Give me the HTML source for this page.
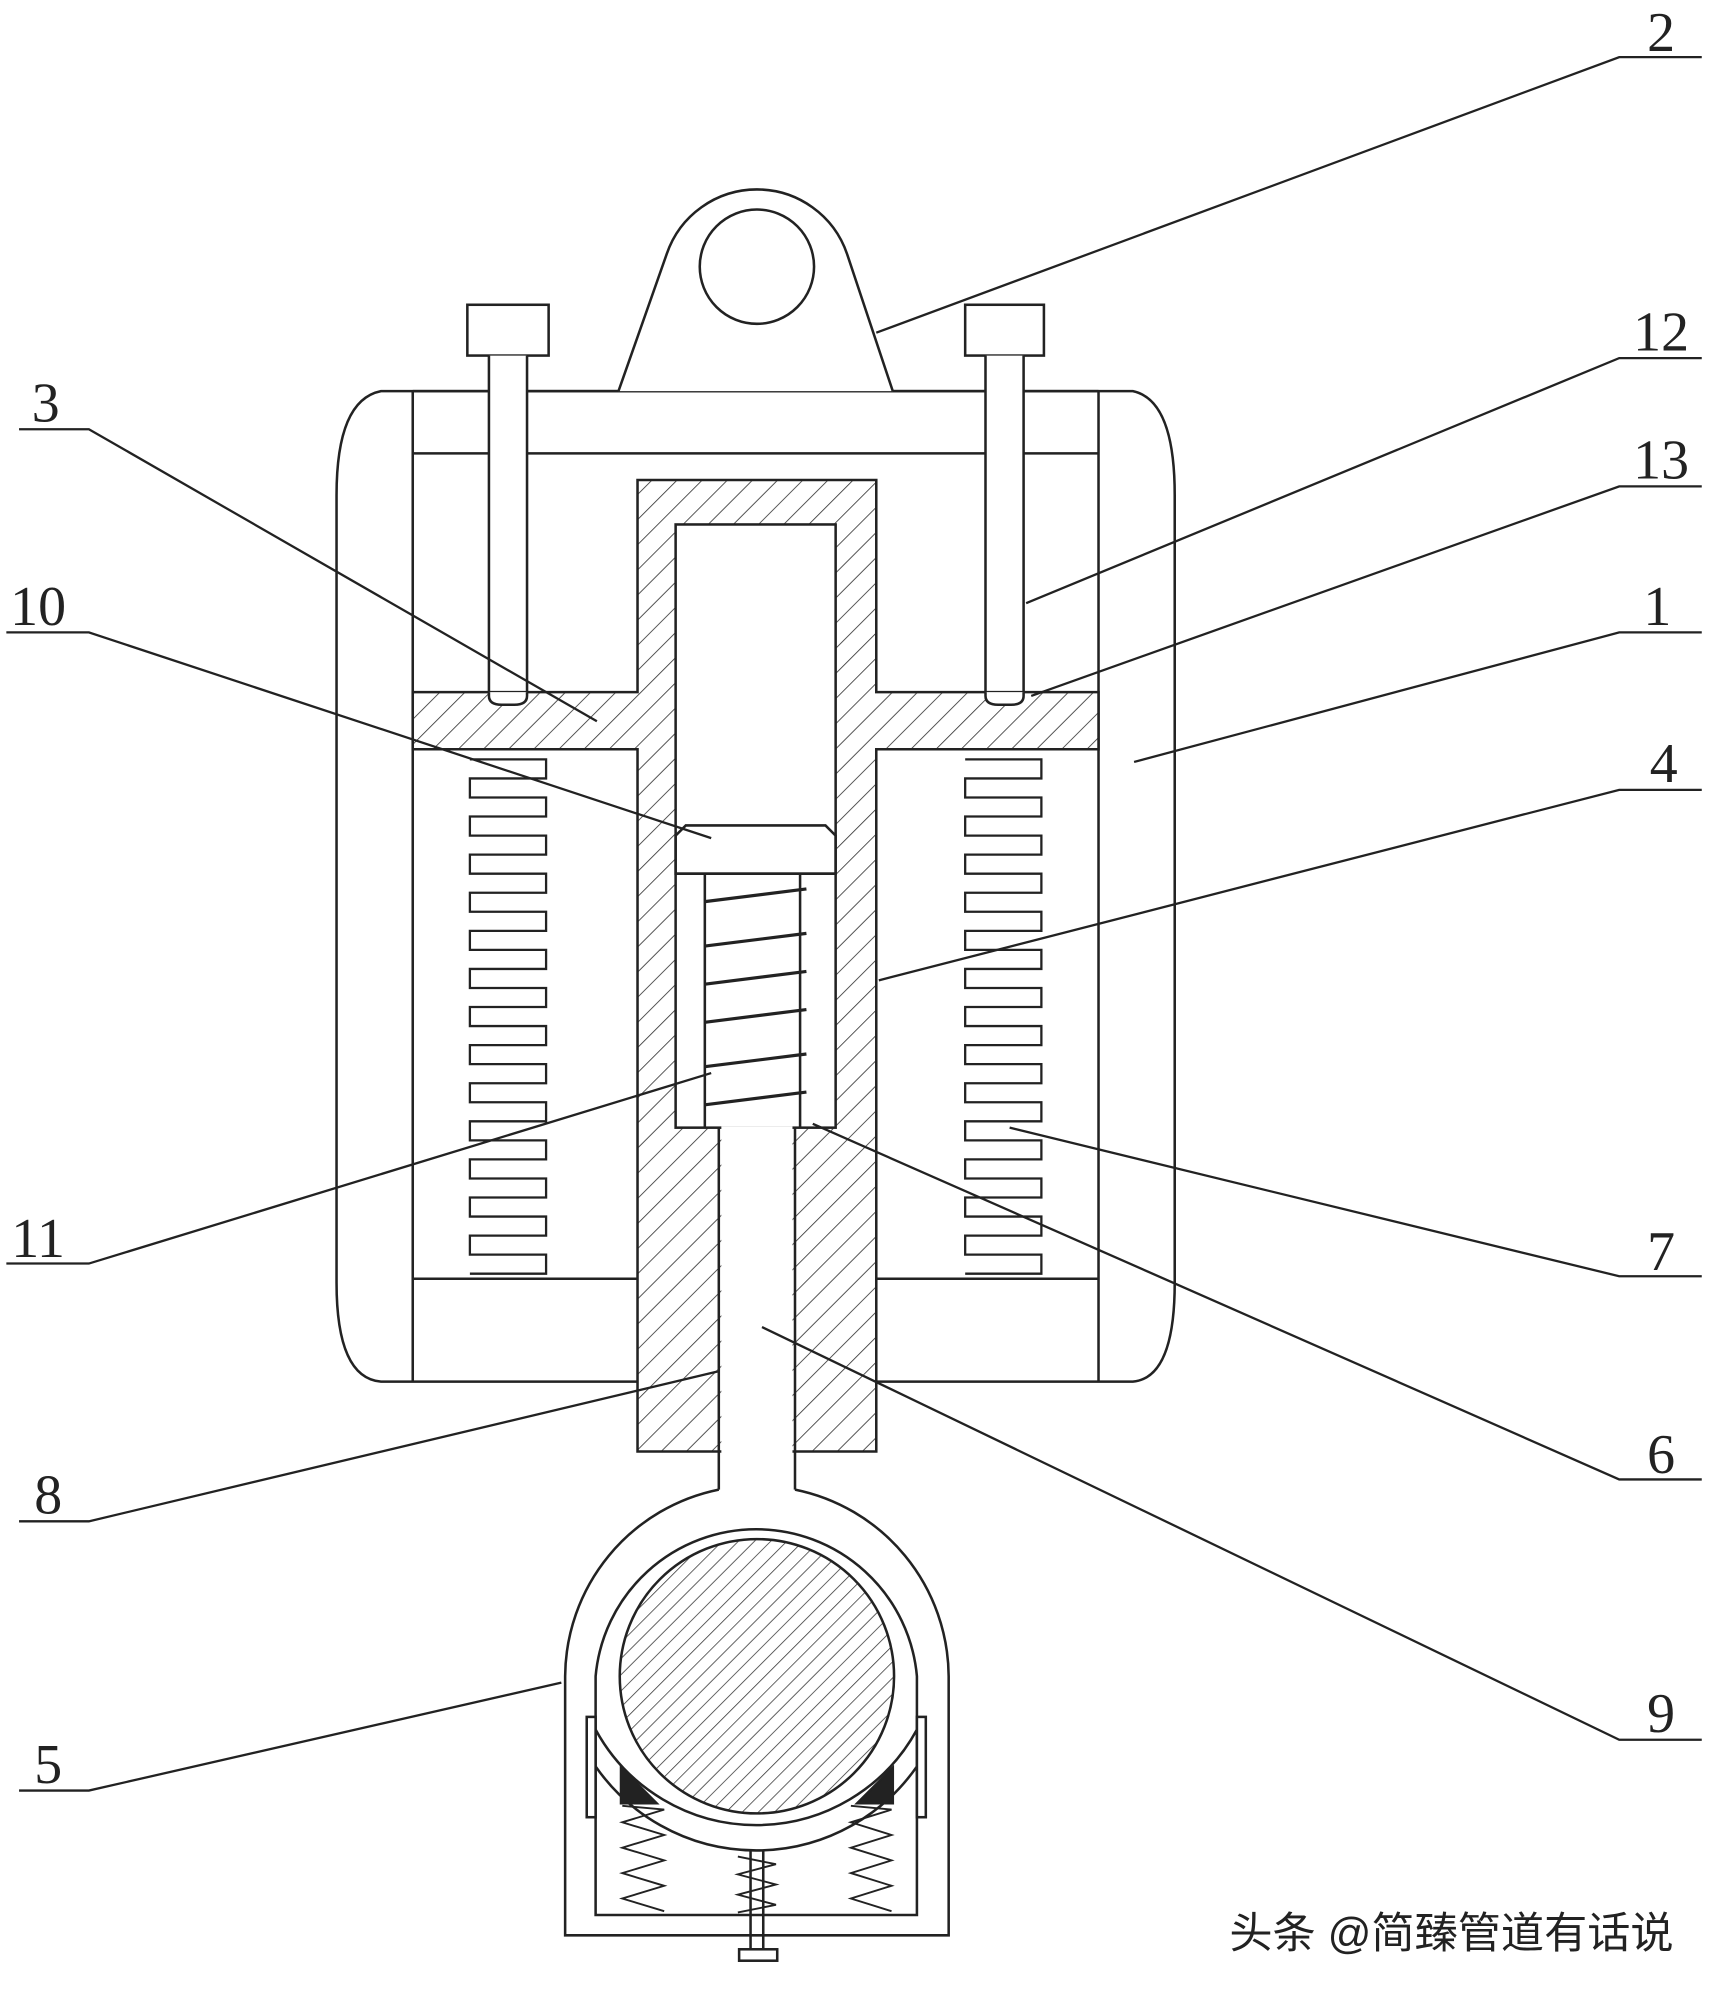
<!DOCTYPE html>
<html><head><meta charset="utf-8"><style>html,body{margin:0;padding:0;background:#fff}svg{display:block}</style></head>
<body>
<svg width="1717" height="1995" viewBox="0 0 1352 1571" preserveAspectRatio="none" xmlns="http://www.w3.org/2000/svg">
<defs>
<pattern id="h" width="14" height="14" patternUnits="userSpaceOnUse" patternTransform="rotate(45)">
<rect width="14" height="14" fill="#fff"/><line x1="0" y1="0" x2="0" y2="14" stroke="#333" stroke-width="1.3"/>
</pattern>
<pattern id="h2" width="9" height="9" patternUnits="userSpaceOnUse" patternTransform="rotate(45)">
<rect width="9" height="9" fill="#fff"/><line x1="0" y1="0" x2="0" y2="9" stroke="#333" stroke-width="1.2"/>
</pattern>
</defs>
<g fill="none" stroke="#222" stroke-width="2">
<path d="M325,308 L300,308 Q265,315 265,390 L265,1010 Q265,1085 300,1088 L892,1088 Q925,1085 925,1010 L925,390 Q925,315 892,308 Z" fill="#fff"/>
<line x1="325" y1="308" x2="325" y2="1088"/><line x1="865" y1="308" x2="865" y2="1088"/>
<line x1="325" y1="308" x2="865" y2="308"/><line x1="325" y1="357" x2="865" y2="357"/>
<line x1="325" y1="1007" x2="502" y2="1007"/><line x1="690" y1="1007" x2="865" y2="1007"/>
<path d="M487,308 L525,200 A75,75 0 0 1 667,200 L703,308" fill="#fff"/>
<circle cx="596" cy="210" r="45"/>
<rect x="368" y="240" width="64" height="40" fill="#fff"/>
<path d="M385,280 L385,545 Q385,555 395,555 L405,555 Q415,555 415,545 L415,280" fill="#fff"/>
<rect x="760" y="240" width="62" height="40" fill="#fff"/>
<path d="M776,280 L776,545 Q776,555 786,555 L796,555 Q806,555 806,545 L806,280" fill="#fff"/>
<path d="M502,378 L690,378 L690,545 L865,545 L865,590 L690,590 L690,1143 L502,1143 L502,590 L325,590 L325,545 L502,545 Z" fill="url(#h)"/>
<path d="M385,545 L385,548 Q385,555 395,555 L405,555 Q415,555 415,548 L415,545" fill="#fff"/>
<path d="M776,545 L776,548 Q776,555 786,555 L796,555 Q806,555 806,548 L806,545" fill="#fff"/>
<rect x="532" y="413" width="126" height="475" fill="#fff"/>
<path d="M532,688 L532,658 L540,650 L650,650 L658,658 L658,688 Z"/>
<line x1="532" y1="688" x2="658" y2="688"/>
<line x1="555" y1="688" x2="555" y2="888"/><line x1="630" y1="688" x2="630" y2="888"/>
<path d="M555,710 L635,700 M555,745 L635,735 M555,775 L635,765 M555,805 L635,795 M555,840 L635,830 M555,870 L635,860" stroke-width="2.5"/>
<rect x="568" y="887" width="56" height="260" fill="#fff" stroke="none"/>
<line x1="566" y1="888" x2="566" y2="1175"/><line x1="626" y1="888" x2="626" y2="1175"/>
<path id="sp" d="M370,598 L430,598 L430,613 L370,613 L370,628 L430,628 L430,643 L370,643 L370,658 L430,658 L430,673 L370,673 L370,688 L430,688 L430,703 L370,703 L370,718 L430,718 L430,733 L370,733 L370,748 L430,748 L430,763 L370,763 L370,778 L430,778 L430,793 L370,793 L370,808 L430,808 L430,823 L370,823 L370,838 L430,838 L430,853 L370,853 L370,868 L430,868 L430,883 L370,883 L370,898 L430,898 L430,913 L370,913 L370,928 L430,928 L430,943 L370,943 L370,958 L430,958 L430,973 L370,973 L370,988 L430,988 L430,1003 L370,1003" stroke-width="1.8"/>
<use href="#sp" x="390"/>
<!-- clamp -->
<path d="M566,1173 A151,151 0 0 0 445,1320 L445,1524 L747,1524 L747,1320 A151,151 0 0 0 626,1173" fill="#fff"/>
<path d="M469,1508 L469,1320 A127,127 0 0 1 722,1320 L722,1508 Z"/>
<circle cx="596" cy="1320" r="108" fill="url(#h2)"/>
<path d="M469,1362 A144,144 0 0 0 722,1362"/>
<path d="M469,1391 A154,154 0 0 0 722,1391"/>
<rect x="462" y="1352" width="7" height="79" fill="#fff"/><rect x="722" y="1352" width="7" height="79" fill="#fff"/>
<path d="M489,1392 L489,1420 L517,1420 Z" fill="#222"/><path d="M703,1392 L703,1420 L675,1420 Z" fill="#222"/>
<path d="M490,1422 L523,1425 L490,1435 L523,1445 L490,1455 L523,1465 L490,1475 L523,1485 L490,1495 L523,1505" stroke-width="1.5"/>
<path d="M670,1422 L702,1425 L670,1435 L702,1445 L670,1455 L702,1465 L670,1475 L702,1485 L670,1495 L702,1505" stroke-width="1.5"/>
<path d="M581,1462 L611,1468 L581,1476 L611,1484 L581,1492 L611,1500 L581,1506" stroke-width="1.5"/>
<line x1="591" y1="1458" x2="591" y2="1535"/><line x1="601" y1="1458" x2="601" y2="1535"/>
<rect x="582" y="1535" width="30" height="9" fill="#fff"/>
<g stroke-width="1.8">
<path d="M1340,45 L1275,45 L690,262"/>
<path d="M1340,282 L1275,282 L808,475"/>
<path d="M1340,383 L1275,383 L812,548"/>
<path d="M1340,498 L1275,498 L893,600"/>
<path d="M1340,622 L1275,622 L692,772"/>
<path d="M1340,1005 L1275,1005 L795,888"/>
<path d="M1340,1165 L1275,1165 L640,885"/>
<path d="M1340,1370 L1275,1370 L600,1045"/>
<path d="M15,338 L70,338 L470,568"/>
<path d="M5,498 L70,498 L560,660"/>
<path d="M5,995 L70,995 L560,845"/>
<path d="M15,1198 L70,1198 L565,1080"/>
<path d="M15,1410 L70,1410 L442,1325"/>
</g>
</g>
<g font-family="Liberation Serif, serif" font-size="44" fill="#222" text-anchor="middle">
<text x="1308" y="40">2</text><text x="1308" y="276">12</text><text x="1308" y="377">13</text>
<text x="1305" y="492">1</text><text x="1310" y="616">4</text><text x="1308" y="1000">7</text>
<text x="1308" y="1160">6</text><text x="1308" y="1364">9</text>
<text x="36" y="332">3</text><text x="30" y="492">10</text><text x="30" y="990">11</text>
<text x="38" y="1192">8</text><text x="38" y="1404">5</text>
</g>
<text x="968" y="1534" font-family="Liberation Sans, Noto Sans CJK SC, sans-serif" font-size="34" fill="#222">头条 @简臻管道有话说</text>
</svg>
</body></html>
